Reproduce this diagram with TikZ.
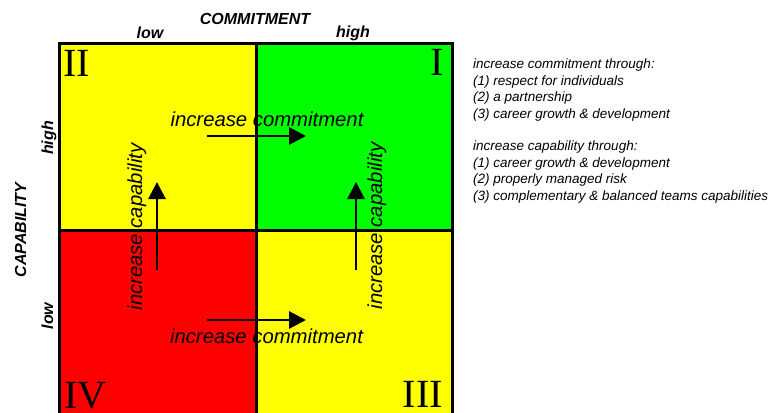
\documentclass[tikz,border=0pt]{standalone}
\usepackage{fontspec}
\setmainfont{Liberation Sans}
\newfontfamily\numfont{Liberation Serif}
\usetikzlibrary{arrows.meta}
\definecolor{qyellow}{HTML}{FFFF00}
\definecolor{qgreen}{HTML}{00FF00}
\definecolor{qred}{HTML}{FF0000}
\tikzset{
  quad/.style={draw=black, line width=3pt},
  numeral/.style={font=\numfont\fontsize{40}{40}\selectfont, inner sep=0pt},
  axislabel/.style={font=\fontsize{16}{16}\selectfont\bfseries\itshape, inner sep=0pt, anchor=base},
  flowlabel/.style={font=\fontsize{20.3}{20}\selectfont\itshape, inner sep=0pt, anchor=base},
  flowarrow/.style={line width=2.9pt, -{Triangle[length=17pt,width=17pt]}},
  notes/.style={font=\fontsize{13.5}{16.7}\selectfont\itshape, inner sep=0pt, anchor=base west, align=left}
}
\begin{document}
\begin{tikzpicture}[x=1pt,y=-1pt]
\useasboundingbox (0,0) rectangle (775,412);
\clip (0,0) rectangle (775,412);

% quadrants
\fill[qyellow] (59,44) rectangle (256,230);
\fill[qgreen]  (256,44) rectangle (452,230);
\fill[qred]    (59,230) rectangle (256,430);
\fill[qyellow] (256,230) rectangle (452,430);
\draw[quad] (59,430) -- (59,44) -- (452,44) -- (452,430);
\draw[quad] (256,44) -- (256,430);
\draw[quad] (59,230) -- (452,230);

% quadrant numbers
\node[numeral, anchor=base west] (qII)  at (63,76)  {II};
\node[numeral, anchor=base east] (qI)   at (444,75) {I};
\node[numeral, anchor=base west] (qIV)  at (64,408) {IV};
\node[numeral, anchor=base east] (qIII) at (443,407) {III};

% axis titles
\node[axislabel] (commit) at (255,25) {COMMITMENT};
\node[axislabel] (clow)   at (150,38) {low};
\node[axislabel] (chigh)  at (353,37.5) {high};
\node[axislabel, rotate=90] (capab) at (26,230) {CAPABILITY};
\node[axislabel, rotate=90] (khigh) at (53,138) {high};
\node[axislabel, rotate=90] (klow)  at (53,316) {low};

% movement labels
\node[flowlabel] (ctop) at (267,126) {increase commitment};
\node[flowlabel] (cbot) at (266.5,343) {increase commitment};
\node[flowlabel, rotate=90] (kleft)  at (142,227) {increase capability};
\node[flowlabel, rotate=90] (kright) at (382,226) {increase capability};

% movement arrows
\coordinate (ta) at (207,136);  \coordinate (tb) at (306,136);
\coordinate (ba) at (207,320);  \coordinate (bb) at (306,320);
\coordinate (la) at (157,270);  \coordinate (lb) at (157,182);
\coordinate (ra) at (356,270);  \coordinate (rb) at (356,182);
\draw[flowarrow] (ta) -- (tb);
\draw[flowarrow] (ba) -- (bb);
\draw[flowarrow] (la) -- (lb);
\draw[flowarrow] (ra) -- (rb);

% notes (a multi-line node sits on the baseline of its last line)
\node[notes] (ncommit) at (473,118.6) {increase commitment through:\\(1) respect for individuals\\(2) a partnership\\(3) career growth \& development};
\node[notes] (ncapab) at (473,200.5) {increase capability through:\\(1) career growth \& development\\(2) properly managed risk\\(3) complementary \& balanced teams capabilities};
\end{tikzpicture}
\end{document}
